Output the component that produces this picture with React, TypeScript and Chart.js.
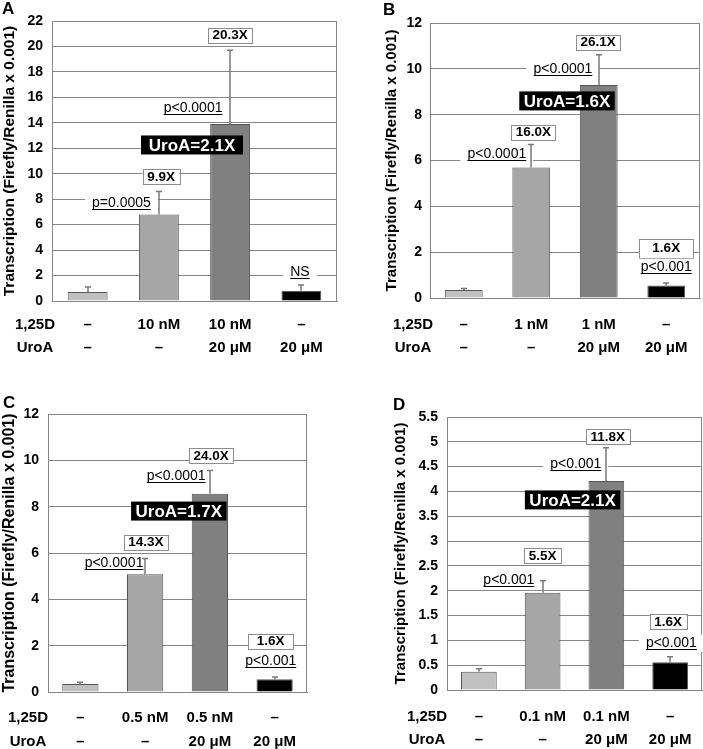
import React, { useEffect, useRef } from "react";
import { Chart, registerables } from "chart.js";

Chart.register(...registerables);

const FONT = "'Liberation Sans', Arial, Helvetica, sans-serif";
Chart.defaults.font.family = FONT;
Chart.defaults.color = "#000";

// ---------- data ----------
const rowHeaders = ["1,25D", "UroA"];
const yTitle = "Transcription (Firefly/Renilla x 0.001)";

type Ann = { kind: "fold" | "p" | "uro"; text: string; x: number; y: number; w?: number; h?: number };

// Panel A
const aDose = ["–", "10 nM", "10 nM", "–"];
const aUroA = ["–", "–", "20 μM", "20 μM"];
const aMeans = [0.7, 6.8, 13.9, 0.8];
const aErrors = [0.4, 1.8, 5.8, 0.45];
const aYMax = 22;
const aYStep = 2;
const aAnnotations: Ann[] = [
  { kind: "fold", text: "20.3X", x: 2.0, y: 20.9 },
  { kind: "p", text: "p<0.0001", x: 1.48, y: 14.85 },
  { kind: "uro", text: "UroA=2.1X", x: 1.465, y: 12.26, w: 102 },
  { kind: "fold", text: "9.9X", x: 1.03, y: 9.78 },
  { kind: "p", text: "p=0.0005", x: 0.475, y: 7.39 },
  { kind: "p", text: "NS", x: 2.98, y: 1.96 },
];

// Panel B
const bDose = ["–", "1 nM", "1 nM", "–"];
const bUroA = ["–", "–", "20 μM", "20 μM"];
const bMeans = [0.35, 5.7, 9.3, 0.55];
const bErrors = [0.07, 1.0, 1.32, 0.1];
const bYMax = 12;
const bYStep = 2;
const bAnnotations: Ann[] = [
  { kind: "fold", text: "26.1X", x: 1.99, y: 11.17 },
  { kind: "p", text: "p<0.0001", x: 1.47, y: 9.83 },
  { kind: "uro", text: "UroA=1.6X", x: 1.53, y: 8.6 },
  { kind: "fold", text: "16.0X", x: 1.03, y: 7.24 },
  { kind: "p", text: "p<0.0001", x: 0.49, y: 6.12 },
  { kind: "fold", text: "1.6X", x: 3.0, y: 2.18, w: 54, h: 19 },
  { kind: "p", text: "p<0.001", x: 3.0, y: 1.19 },
];

// Panel C
const cDose = ["–", "0.5 nM", "0.5 nM", "–"];
const cUroA = ["–", "–", "20 μM", "20 μM"];
const cMeans = [0.34, 5.08, 8.56, 0.55];
const cErrors = [0.08, 0.68, 1.0, 0.1];
const cYMax = 12;
const cYStep = 2;
const cAnnotations: Ann[] = [
  { kind: "fold", text: "24.0X", x: 2.02, y: 10.19 },
  { kind: "p", text: "p<0.0001", x: 1.48, y: 9.15 },
  { kind: "uro", text: "UroA=1.7X", x: 1.52, y: 7.81 },
  { kind: "fold", text: "14.3X", x: 1.01, y: 6.47 },
  { kind: "p", text: "p<0.0001", x: 0.52, y: 5.38 },
  { kind: "fold", text: "1.6X", x: 2.94, y: 2.2, w: 45 },
  { kind: "p", text: "p<0.001", x: 2.94, y: 1.17 },
];

// Panel D
const dDose = ["–", "0.1 nM", "0.1 nM", "–"];
const dUroA = ["–", "–", "20 μM", "20 μM"];
const dMeans = [0.37, 1.96, 4.21, 0.56];
const dErrors = [0.06, 0.24, 0.67, 0.11];
const dYMax = 5.5;
const dYStep = 0.5;
const dAnnotations: Ann[] = [
  { kind: "fold", text: "11.8X", x: 2.02, y: 5.1 },
  { kind: "p", text: "p<0.001", x: 1.52, y: 4.47 },
  { kind: "uro", text: "UroA=2.1X", x: 1.47, y: 3.83 },
  { kind: "fold", text: "5.5X", x: 1.0, y: 2.7 },
  { kind: "p", text: "p<0.001", x: 0.47, y: 2.14 },
  { kind: "fold", text: "1.6X", x: 2.97, y: 1.37 },
  { kind: "p", text: "p<0.001", x: 3.02, y: 0.87 },
];

// ---------- styles ----------
const barColors = ["#c0c0c0", "#a6a6a6", "#808080", "#000000"];
const barBorder = "#555555";
const gridColor = "#868686";
const errColor = "#7a7a7a";

type PanelCfg = {
  letter: string;
  left: number; top: number; width: number; height: number;
  area: { l: number; r: number; t: number; b: number };
  dose: string[]; uroa: string[]; means: number[]; errors: number[];
  yMax: number; yStep: number; anns: Ann[];
  titleSize: number; titlePad: number; yTickPad: number;
  xPad: number; xLineH: number; headerX: number;
  letterPos: { x: number; y: number };
};

const panels: PanelCfg[] = [
  {
    letter: "A", left: 0, top: 0, width: 350, height: 370,
    area: { l: 52, r: 337, t: 21, b: 301 },
    dose: aDose, uroa: aUroA, means: aMeans, errors: aErrors,
    yMax: aYMax, yStep: aYStep, anns: aAnnotations,
    titleSize: 15.5, titlePad: 0, yTickPad: 9, xPad: 12.5, xLineH: 23, headerX: 35,
    letterPos: { x: 2, y: 14 },
  },
  {
    letter: "B", left: 350, top: 0, width: 353, height: 370,
    area: { l: 80, r: 350, t: 23, b: 298 },
    dose: bDose, uroa: bUroA, means: bMeans, errors: bErrors,
    yMax: bYMax, yStep: bYStep, anns: bAnnotations,
    titleSize: 15, titlePad: 33, yTickPad: 8, xPad: 15.5, xLineH: 23, headerX: 63,
    letterPos: { x: 33, y: 15 },
  },
  {
    letter: "C", left: 0, top: 375, width: 350, height: 374,
    area: { l: 48, r: 307, t: 39, b: 317 },
    dose: cDose, uroa: cUroA, means: cMeans, errors: cErrors,
    yMax: cYMax, yStep: cYStep, anns: cAnnotations,
    titleSize: 16, titlePad: 0, yTickPad: 9, xPad: 14, xLineH: 24, headerX: 28,
    letterPos: { x: 3, y: 33 },
  },
  {
    letter: "D", left: 350, top: 375, width: 353, height: 374,
    area: { l: 97, r: 352, t: 42, b: 315 },
    dose: dDose, uroa: dUroA, means: dMeans, errors: dErrors,
    yMax: dYMax, yStep: dYStep, anns: dAnnotations,
    titleSize: 15, titlePad: 42, yTickPad: 9, xPad: 15.5, xLineH: 23, headerX: 77,
    letterPos: { x: 43, y: 35 },
  },
];

function makeOverlay(cfg: PanelCfg) {
  return {
    id: "overlay" + cfg.letter,
    beforeDatasetsDraw(chart: any) {
      const { ctx, chartArea } = chart;
      ctx.save();
      ctx.strokeStyle = gridColor;
      ctx.lineWidth = 1;
      ctx.beginPath();
      const xr = Math.round(chartArea.right) - 0.5;
      ctx.moveTo(xr, chartArea.top);
      ctx.lineTo(xr, chartArea.bottom);
      ctx.stroke();
      ctx.restore();
    },
    afterDatasetsDraw(chart: any) {
      const { ctx, scales } = chart;
      const xs = scales.x;
      const ys = scales.y;
      ctx.save();
      // annotations
      for (const a of cfg.anns) {
        const px = xs.getPixelForValue(a.x);
        const py = ys.getPixelForValue(a.y);
        if (a.kind === "fold") {
          ctx.font = `bold 13.5px ${FONT}`;
          const tw = ctx.measureText(a.text).width;
          const w = a.w ?? tw + 9;
          const h = a.h ?? 15;
          ctx.fillStyle = "#fff";
          ctx.fillRect(px - w / 2, py - h / 2, w, h);
          ctx.strokeStyle = "#8c8c8c";
          ctx.lineWidth = 1;
          ctx.strokeRect(Math.round(px - w / 2) + 0.5, Math.round(py - h / 2) + 0.5, Math.round(w), Math.round(h));
          ctx.fillStyle = "#000";
          ctx.textAlign = "center";
          ctx.textBaseline = "middle";
          ctx.fillText(a.text, px, py + 0.5);
        } else if (a.kind === "uro") {
          ctx.font = `bold 17px ${FONT}`;
          const tw = ctx.measureText(a.text).width;
          const w = a.w ?? tw + 9;
          const h = a.h ?? 19;
          ctx.fillStyle = "#000";
          ctx.fillRect(px - w / 2, py - h / 2, w, h);
          ctx.fillStyle = "#fff";
          ctx.textAlign = "center";
          ctx.textBaseline = "middle";
          ctx.fillText(a.text, px, py + 1);
        } else {
          ctx.font = `14px ${FONT}`;
          const tw = ctx.measureText(a.text).width;
          ctx.fillStyle = "#fff";
          ctx.fillRect(px - tw / 2 - 7, py - 12, tw + 14, 17);
          ctx.fillStyle = "#000";
          ctx.textAlign = "center";
          ctx.textBaseline = "alphabetic";
          ctx.fillText(a.text, px, py);
          ctx.strokeStyle = "#000";
          ctx.lineWidth = 1;
          ctx.beginPath();
          const uy = Math.round(py + 2) + 0.5;
          ctx.moveTo(px - tw / 2, uy);
          ctx.lineTo(px + tw / 2, uy);
          ctx.stroke();
        }
      }
      // error bars (upper only)
      const meta = chart.getDatasetMeta(0);
      ctx.strokeStyle = errColor;
      ctx.lineWidth = 1.5;
      cfg.means.forEach((m, i) => {
        const el = meta.data[i];
        const x = Math.round(el.x);
        const yb = ys.getPixelForValue(m);
        const yt = ys.getPixelForValue(m + cfg.errors[i]);
        ctx.beginPath();
        ctx.moveTo(x, yb);
        ctx.lineTo(x, yt);
        ctx.moveTo(x - 3, yt);
        ctx.lineTo(x + 3, yt);
        ctx.stroke();
      });
      // row headers
      ctx.fillStyle = "#000";
      ctx.font = `bold 15px ${FONT}`;
      ctx.textAlign = "center";
      ctx.textBaseline = "middle";
      const y0 = xs.top + cfg.xPad + cfg.xLineH / 2;
      rowHeaders.forEach((h, i) => {
        ctx.fillText(h, cfg.headerX, y0 + i * cfg.xLineH);
      });
      // panel letter
      ctx.font = `bold 17px ${FONT}`;
      ctx.textAlign = "left";
      ctx.textBaseline = "alphabetic";
      ctx.fillText(cfg.letter, cfg.letterPos.x, cfg.letterPos.y);
      ctx.restore();
    },
  };
}

function Panel({ cfg }: { cfg: PanelCfg }) {
  const ref = useRef<HTMLCanvasElement>(null);
  useEffect(() => {
    const canvas = ref.current;
    if (!canvas) return;
    const labels = cfg.dose.map((d, i) => [d, cfg.uroa[i]]);
    const chart = new Chart(canvas, {
      type: "bar",
      data: {
        labels,
        datasets: [
          {
            data: cfg.means,
            backgroundColor: barColors,
            borderColor: barBorder,
            borderWidth: 1,
            barPercentage: 0.56,
            categoryPercentage: 1,
          },
        ],
      },
      options: {
        responsive: false,
        animation: false,
        devicePixelRatio: 1,
        layout: {
          padding: { left: 0, top: cfg.area.t, right: cfg.width - cfg.area.r, bottom: 0 },
        },
        plugins: {
          legend: { display: false },
          tooltip: { enabled: false },
          title: { display: false },
        },
        scales: {
          x: {
            type: "category",
            offset: true,
            grid: { display: false, drawTicks: false, tickLength: 0 },
            border: { display: true, color: gridColor, width: 1 },
            ticks: {
              autoSkip: false,
              maxRotation: 0,
              minRotation: 0,
              padding: cfg.xPad,
              color: "#000",
              font: { size: 15, weight: "bold", lineHeight: cfg.xLineH + "px" },
            },
            afterFit: (s: any) => {
              s.height = cfg.height - cfg.area.b;
              s.paddingLeft = 0;
              s.paddingRight = 0;
            },
          },
          y: {
            min: 0,
            max: cfg.yMax,
            grid: { color: gridColor, lineWidth: 1, drawTicks: false, tickLength: 0 },
            border: { display: true, color: gridColor, width: 1 },
            ticks: {
              stepSize: cfg.yStep,
              padding: cfg.yTickPad,
              color: "#000",
              font: { size: 14, weight: "bold" },
              callback: (v: any) => String(v),
            },
            title: {
              display: true,
              text: yTitle,
              color: "#000",
              font: { size: cfg.titleSize, weight: "bold" },
              padding: { top: cfg.titlePad, bottom: 0 },
            },
            afterFit: (s: any) => {
              s.width = cfg.area.l;
              s.paddingTop = 0;
              s.paddingBottom = 0;
            },
          },
        },
      },
      plugins: [makeOverlay(cfg)],
    } as any);
    return () => chart.destroy();
  }, [cfg]);
  return (
    <canvas
      ref={ref}
      width={cfg.width}
      height={cfg.height}
      style={{ position: "absolute", left: cfg.left, top: cfg.top, width: cfg.width, height: cfg.height }}
    />
  );
}

export default function App() {
  return (
    <div style={{ position: "absolute", left: 0, top: 0, width: 703, height: 749, background: "#fff", overflow: "hidden" }}>
      {panels.map((p) => (
        <Panel key={p.letter} cfg={p} />
      ))}
    </div>
  );
}
